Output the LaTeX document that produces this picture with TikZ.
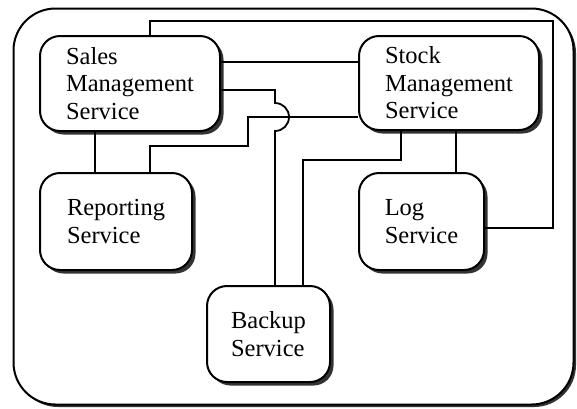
\documentclass[tikz,border=0pt]{standalone}
\usepackage{fontspec}
\setmainfont{Liberation Serif}
\usetikzlibrary{shadows,calc}
\begin{document}
\begin{tikzpicture}[x=1pt,y=-1pt,
  svc/.style={draw,line width=2pt,rounded corners=20pt,fill=white,align=left,inner sep=0pt,
    font=\fontsize{24.5}{27.5}\selectfont,
    drop shadow={shadow xshift=3.5pt,shadow yshift=-3.5pt,fill=black!80,opacity=1}},
  frame/.style={draw,line width=2pt,rounded corners=42pt,fill=white,inner sep=0pt,
    drop shadow={shadow xshift=2.5pt,shadow yshift=-2.5pt,fill=black!80,opacity=1}},
  link/.style={line width=1.8pt}]
\useasboundingbox (0,0) rectangle (577,408);
\node[frame,minimum width=560pt,minimum height=396pt] (sys) at (293.5,206.5) {};
\node[svc,minimum width=180pt,minimum height=95pt] (sales) at (130,83.5) {Sales\\Management\\Service};
\node[svc,minimum width=180pt,minimum height=94pt] (stock) at (449,83) {Stock\\Management\\Service};
\node[svc,minimum width=152pt,minimum height=97pt] (rep) at (116,221.5) {Reporting\\Service};
\node[svc,minimum width=125pt,minimum height=97pt] (log) at (421.5,221.5) {Log\\Service};
\node[svc,minimum width=123pt,minimum height=96pt] (backup) at (268.5,334) {Backup\\Service};
% connectors
\draw[link] ($(sales.north)+(20,0)$) |- (553,21) |- ($(log.east)+(0,6.5)$);
\draw[link] ($(sales.east)+(0,-21.5)$) coordinate (a) -- (a -| stock.west);
\draw[link] ($(sales.east)+(0,6.5)$) -- (275,90) -- (275,103) arc(-90:90:14) -- ($(backup.north)+(6.5,0)$);
\draw[link] ($(rep.north)+(34,0)$) |- (248,146) |- ($(stock.west)+(0,34)$);
\draw[link] ($(sales.south)+(-35,0)$) -- ($(rep.north)+(-21,0)$);
\draw[link] ($(stock.south)+(-48,0)$) |- (303,160) -- ($(backup.north)+(34.5,0)$);
\draw[link] ($(stock.south)+(7,0)$) -- ($(log.north)+(34.5,0)$);
\end{tikzpicture}
\end{document}
